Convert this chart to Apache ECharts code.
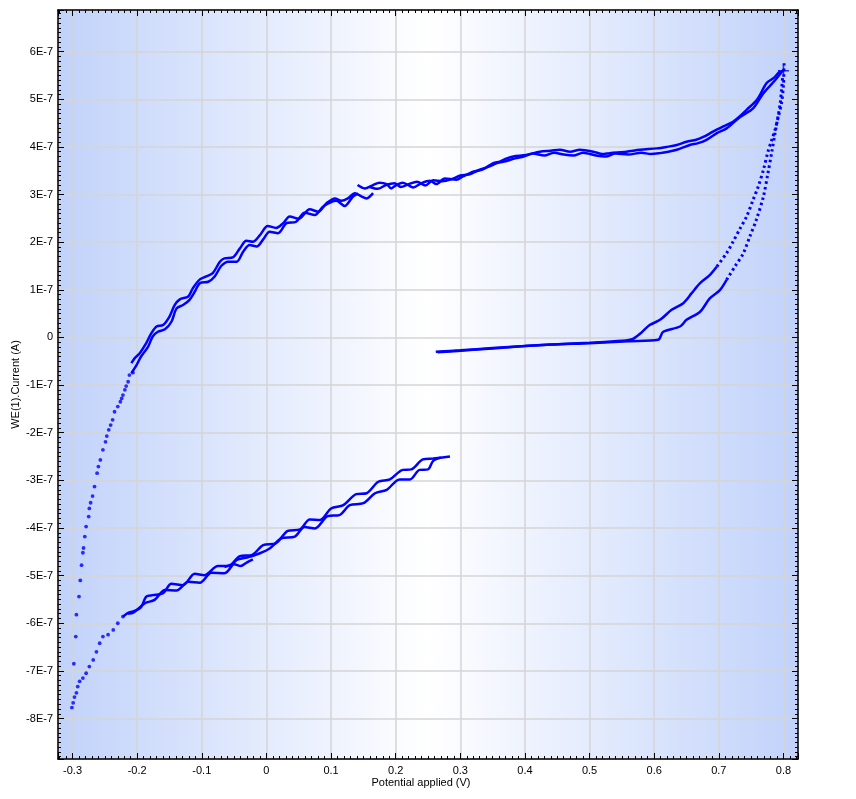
<!DOCTYPE html>
<html>
<head>
<meta charset="utf-8">
<script src="https://cdn.jsdelivr.net/npm/echarts@6/dist/echarts.min.js"></script>
<style>
html,body{margin:0;padding:0;background:#fff;}
#chart{width:856px;height:799px;}
</style>
</head>
<body>
<div id="chart"></div>
<script>
var myChart = echarts.init(document.getElementById("chart"));

// potential in V, current in units of 1E-7 A
var leftUpperA = [[-0.209,-0.54],[-0.204,-0.44],[-0.196,-0.33],[-0.186,-0.12],[-0.178,0.09],[-0.170,0.23],[-0.160,0.26],[-0.150,0.44],[-0.142,0.68],[-0.134,0.80],[-0.121,0.86],[-0.114,1.03],[-0.103,1.22],[-0.093,1.28],[-0.083,1.35],[-0.072,1.59],[-0.065,1.66],[-0.052,1.68],[-0.041,1.87],[-0.031,2.03],[-0.021,2.01],[-0.010,2.15],[0.002,2.34],[0.015,2.30],[0.026,2.40],[0.036,2.54],[0.050,2.49],[0.067,2.69],[0.080,2.64],[0.093,2.82],[0.106,2.92],[0.116,2.87],[0.126,2.92],[0.137,3.03],[0.147,2.96],[0.155,2.92],[0.165,3.03]];
var leftUpperB = [[-0.209,-0.75],[-0.201,-0.58],[-0.194,-0.40],[-0.183,-0.19],[-0.176,0.02],[-0.168,0.12],[-0.157,0.17],[-0.147,0.33],[-0.139,0.61],[-0.129,0.68],[-0.119,0.79],[-0.111,0.96],[-0.103,1.14],[-0.090,1.17],[-0.080,1.28],[-0.070,1.50],[-0.059,1.59],[-0.046,1.59],[-0.036,1.80],[-0.026,1.94],[-0.015,1.91],[-0.005,2.06],[0.005,2.22],[0.018,2.19],[0.031,2.40],[0.046,2.43],[0.059,2.62],[0.075,2.57],[0.088,2.75],[0.108,2.87],[0.121,2.76],[0.134,2.96],[0.142,3.02]];

var cathodicDots = [[-0.2065,-0.74],[-0.212,-0.79],[-0.214,-0.93],[-0.217,-1.02],[-0.219,-1.10],[-0.222,-1.21],[-0.224,-1.28],[-0.226,-1.35],[-0.230,-1.45],[-0.235,-1.56],[-0.238,-1.73],[-0.241,-1.84],[-0.244,-1.94],[-0.247,-2.07],[-0.249,-2.19],[-0.253,-2.36],[-0.257,-2.57],[-0.260,-2.71],[-0.262,-2.85],[-0.266,-3.13],[-0.269,-3.33],[-0.272,-3.47],[-0.274,-3.59],[-0.275,-3.76],[-0.279,-3.97],[-0.281,-4.18],[-0.283,-4.42],[-0.284,-4.52],[-0.286,-4.78],[-0.288,-5.10],[-0.290,-5.44],[-0.294,-5.82],[-0.295,-6.28],[-0.298,-6.85],[-0.301,-7.77]];
var anodicDots = [[-0.299,-7.67],[-0.297,-7.55],[-0.294,-7.46],[-0.292,-7.33],[-0.289,-7.22],[-0.284,-7.15],[-0.279,-7.05],[-0.274,-6.91],[-0.268,-6.77],[-0.263,-6.60],[-0.258,-6.42],[-0.253,-6.28],[-0.245,-6.24],[-0.237,-6.14],[-0.230,-6.00],[-0.222,-5.86]];

var lowerA = [[-0.222,-5.86],[-0.214,-5.78],[-0.206,-5.75],[-0.194,-5.66],[-0.186,-5.44],[-0.176,-5.41],[-0.160,-5.37],[-0.147,-5.17],[-0.129,-5.20],[-0.111,-4.96],[-0.096,-4.99],[-0.075,-4.80],[-0.059,-4.80],[-0.041,-4.59],[-0.023,-4.57],[-0.005,-4.36],[0.015,-4.32],[0.033,-4.06],[0.052,-4.03],[0.067,-3.82],[0.083,-3.83],[0.100,-3.59],[0.119,-3.52],[0.139,-3.29],[0.155,-3.27],[0.173,-3.03],[0.191,-2.98],[0.211,-2.78],[0.224,-2.77],[0.242,-2.56],[0.258,-2.54],[0.284,-2.50]];
var lowerB = [[-0.214,-5.80],[-0.206,-5.78],[-0.188,-5.58],[-0.173,-5.51],[-0.157,-5.30],[-0.139,-5.31],[-0.121,-5.13],[-0.103,-5.15],[-0.085,-4.94],[-0.065,-4.95],[-0.046,-4.67],[-0.030,-4.62],[-0.010,-4.53],[0.005,-4.43],[0.023,-4.22],[0.044,-4.18],[0.059,-3.98],[0.075,-4.01],[0.095,-3.75],[0.113,-3.73],[0.129,-3.52],[0.150,-3.48],[0.168,-3.27],[0.186,-3.20],[0.206,-2.98],[0.222,-2.98],[0.237,-2.78],[0.250,-2.77],[0.258,-2.59],[0.270,-2.52]];
var lowerTail = [[-0.065,-4.82],[-0.050,-4.76],[-0.040,-4.80],[-0.030,-4.72],[-0.021,-4.66]];

var topA = [[0.141,3.20],[0.152,3.13],[0.165,3.20],[0.175,3.25],[0.186,3.22],[0.193,3.13],[0.201,3.20],[0.211,3.25],[0.227,3.15],[0.240,3.24],[0.253,3.29],[0.263,3.22],[0.276,3.34],[0.294,3.31],[0.304,3.38],[0.320,3.48],[0.335,3.53],[0.351,3.66],[0.361,3.69],[0.372,3.76],[0.382,3.80],[0.402,3.83],[0.423,3.90],[0.440,3.92],[0.454,3.94],[0.470,3.90],[0.485,3.94],[0.506,3.90],[0.520,3.85],[0.531,3.87],[0.557,3.90],[0.578,3.94],[0.604,3.97],[0.619,4.00],[0.635,4.04],[0.650,4.11],[0.665,4.15],[0.676,4.21],[0.691,4.32],[0.707,4.43],[0.722,4.53],[0.733,4.65],[0.743,4.78],[0.759,4.99],[0.774,5.34],[0.785,5.45],[0.795,5.60]];
var topB = [[0.160,3.16],[0.172,3.12],[0.185,3.20],[0.198,3.24],[0.208,3.16],[0.220,3.22],[0.233,3.27],[0.246,3.19],[0.258,3.30],[0.272,3.28],[0.286,3.32],[0.300,3.40],[0.313,3.42],[0.328,3.51],[0.343,3.58],[0.357,3.66],[0.370,3.70],[0.385,3.76],[0.398,3.80],[0.412,3.86],[0.430,3.82],[0.445,3.88],[0.460,3.84],[0.475,3.82],[0.490,3.88],[0.510,3.82],[0.525,3.80],[0.540,3.86],[0.560,3.84],[0.580,3.88],[0.595,3.85],[0.609,3.87],[0.622,3.90],[0.635,3.94],[0.655,4.04],[0.668,4.08],[0.681,4.15],[0.697,4.29],[0.712,4.39],[0.733,4.63],[0.753,4.81],[0.769,5.13],[0.787,5.40],[0.800,5.62]];

var baseA = [[0.262,-0.30],[0.300,-0.27],[0.350,-0.22],[0.400,-0.18],[0.450,-0.14],[0.500,-0.11],[0.550,-0.07],[0.567,-0.03],[0.580,0.10],[0.593,0.26],[0.609,0.37],[0.627,0.58],[0.645,0.72],[0.658,0.93],[0.671,1.14],[0.686,1.31],[0.697,1.49]];
var steepA = [[0.697,1.49],[0.712,1.77],[0.722,2.01],[0.733,2.29],[0.743,2.54],[0.753,2.89],[0.761,3.17],[0.769,3.52],[0.776,3.90],[0.782,4.15],[0.787,4.36],[0.792,4.63],[0.797,4.92],[0.800,5.30],[0.801,5.79]];
var baseB = [[0.265,-0.31],[0.320,-0.26],[0.380,-0.20],[0.440,-0.15],[0.500,-0.12],[0.560,-0.08],[0.606,-0.05],[0.614,0.12],[0.640,0.23],[0.650,0.37],[0.671,0.54],[0.686,0.82],[0.702,1.00],[0.712,1.21]];
var steepB = [[0.712,1.21],[0.725,1.49],[0.738,1.77],[0.748,2.12],[0.758,2.47],[0.769,2.96],[0.776,3.45],[0.782,3.90],[0.787,4.29],[0.792,4.67],[0.795,4.92],[0.797,5.20],[0.799,5.50]];

var endMark = [[0.800,5.60]];

var xMin = -0.3225, xMax = 0.8225;
var yMin = -8.85, yMax = 6.875;

var blue = '#0000ff';
var font = 'Liberation Sans, Arial, sans-serif';

function lineSeries(data, dashed) {
    return {
        type: 'line',
        data: data,
        showSymbol: false,
        symbol: 'none',
        smooth: 0.3,
        silent: true,
        lineStyle: {color: blue, width: dashed ? 3 : 2.5, type: dashed ? [2.5, 3] : 'solid'},
        z: 3
    };
}
function dotSeries(data) {
    return {
        type: 'scatter',
        data: data,
        symbol: 'circle',
        symbolSize: 3.8,
        silent: true,
        itemStyle: {color: blue},
        z: 4
    };
}

function xLabel(v) {
    if (Math.abs(v * 10 - Math.round(v * 10)) > 1e-6) return '';
    return Math.abs(v) < 1e-9 ? '0' : (Math.round(v * 10) / 10).toFixed(1);
}
function yLabel(v) {
    if (Math.abs(v - Math.round(v)) > 1e-6) return '';
    var n = Math.round(v);
    return n === 0 ? '0' : n + 'E-7';
}

var tickStyle = {show: true, inside: true, length: 6, lineStyle: {color: '#000', width: 1}};
var minorStyle = {show: true, splitNumber: 10, length: 3, lineStyle: {color: '#000', width: 1}};

option = {
    backgroundColor: '#ffffff',
    animation: false,
    grid: {
        left: 58, right: 58, top: 10, bottom: 40,
        outerBoundsMode: 'none',
        containLabel: false,
        show: true,
        borderWidth: 0,
        backgroundColor: new echarts.graphic.LinearGradient(0, 0, 1, 0, [
            {offset: 0, color: '#c1d2fa'},
            {offset: 0.5, color: '#ffffff'},
            {offset: 1, color: '#c1d2fa'}
        ])
    },
    xAxis: [{
        type: 'value', min: xMin, max: xMax, splitNumber: 11, position: 'bottom',
        name: 'Potential applied (V)', nameLocation: 'middle', nameGap: 18, nameMoveOverlap: false,
        nameTextStyle: {color: '#000', fontSize: 11, fontFamily: font, padding: [0, 14, 0, 0]},
        axisLine: {show: true, onZero: false, lineStyle: {color: '#000', width: 1.5}},
        axisTick: tickStyle, minorTick: minorStyle,
        axisLabel: {color: '#000', fontSize: 11, fontFamily: font, margin: 6, formatter: xLabel, showMinLabel: false, showMaxLabel: false},
        splitLine: {show: true, lineStyle: {color: '#d5d5d5', width: 1.5}}
    }, {
        type: 'value', min: xMin, max: xMax, splitNumber: 11, position: 'top',
        axisLine: {show: true, onZero: false, lineStyle: {color: '#000', width: 1.5}},
        axisTick: tickStyle, minorTick: minorStyle,
        axisLabel: {show: false}, splitLine: {show: false}
    }],
    yAxis: [{
        type: 'value', min: yMin, max: yMax, splitNumber: 15, position: 'left',
        name: 'WE(1).Current (A)', nameLocation: 'middle', nameGap: 37, nameMoveOverlap: false,
        nameTextStyle: {color: '#000', fontSize: 11, fontFamily: font},
        axisLine: {show: true, onZero: false, lineStyle: {color: '#000', width: 1.5}},
        axisTick: tickStyle, minorTick: minorStyle,
        axisLabel: {color: '#000', fontSize: 11, fontFamily: font, margin: 5, formatter: yLabel, showMinLabel: false, showMaxLabel: false},
        splitLine: {show: true, lineStyle: {color: '#d5d5d5', width: 1.5}}
    }, {
        type: 'value', min: yMin, max: yMax, splitNumber: 15, position: 'right',
        axisLine: {show: true, onZero: false, lineStyle: {color: '#000', width: 1.5}},
        axisTick: tickStyle, minorTick: minorStyle,
        axisLabel: {show: false}, splitLine: {show: false}
    }],
    series: [
        lineSeries(leftUpperA), lineSeries(leftUpperB),
        dotSeries(cathodicDots), dotSeries(anodicDots),
        lineSeries(lowerA), lineSeries(lowerB), lineSeries(lowerTail),
        lineSeries(topA), lineSeries(topB),
        lineSeries(baseA), lineSeries(steepA, true),
        lineSeries(baseB), lineSeries(steepB, true),
        {
            type: 'scatter', data: endMark, silent: true, z: 5,
            symbol: 'path://M0,4.3h10v1.4h-10zM4.3,0h1.4v10h-1.4z', symbolSize: 11,
            itemStyle: {color: blue}
        }
    ]
};

myChart.setOption(option);
</script>
</body>
</html>
